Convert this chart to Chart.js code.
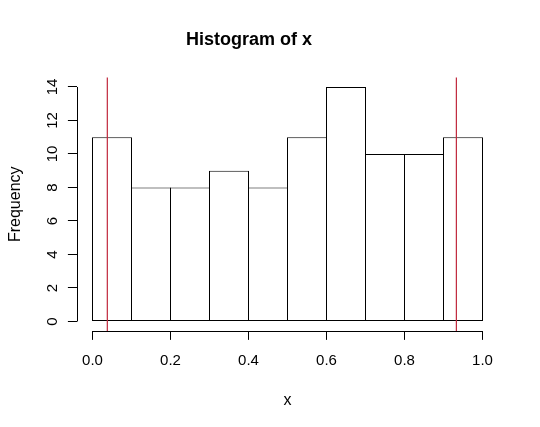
<!DOCTYPE html>
<html>
<head>
<meta charset="utf-8">
<title>Histogram of x</title>
<script src="https://cdn.jsdelivr.net/npm/chart.js@4"></script>
<style>
  body { margin: 0; background: #fff; }
  #wrap { width: 540px; height: 427px; }
</style>
</head>
<body>
<div id="wrap"><canvas id="histChart"></canvas></div>
<script>
// bins and counts
const breaks = [0, 0.1, 0.2, 0.3, 0.4, 0.5, 0.6, 0.7, 0.8, 0.9, 1.0];
const counts = [11, 8, 8, 9, 8, 11, 14, 10, 10, 11];
const xTicks = [0, 0.2, 0.4, 0.6, 0.8, 1.0];
const yTicks = [0, 2, 4, 6, 8, 10, 12, 14];
const vLines = [0.038, 0.933];

const FONT = '"Liberation Sans", Arial, sans-serif';
Chart.defaults.font.family = FONT;
Chart.defaults.color = '#000';

// R pads the plot region by 4% on each side
const xSpan = breaks[breaks.length - 1] - breaks[0];
const yTop = Math.max(...counts);
const xMin = breaks[0] - 0.04 * xSpan, xMax = breaks[breaks.length - 1] + 0.04 * xSpan;
const yMin = -0.04 * yTop, yMax = yTop * 1.04;

const points = counts.map((c, i) => ({ x: (breaks[i] + breaks[i + 1]) / 2, y: c }));

// axis lines only over the tick range, and y labels turned like R draws them
const rAxes = {
  id: 'rAxes',
  afterDraw(chart) {
    const { ctx, chartArea, scales: { x, y } } = chart;
    ctx.save();
    ctx.strokeStyle = '#000';
    ctx.lineWidth = 1;
    const yb = Math.round(chartArea.bottom) + 0.5;
    const xl = Math.round(chartArea.left) + 0.5;
    ctx.beginPath();
    ctx.moveTo(x.getPixelForValue(xTicks[0]), yb);
    ctx.lineTo(x.getPixelForValue(xTicks[xTicks.length - 1]), yb);
    ctx.moveTo(xl, y.getPixelForValue(yTicks[0]));
    ctx.lineTo(xl, y.getPixelForValue(yTicks[yTicks.length - 1]));
    ctx.stroke();

    ctx.font = '15px ' + FONT;
    ctx.fillStyle = '#000';
    ctx.textAlign = 'center';
    ctx.textBaseline = 'middle';
    y.ticks.forEach(t => {
      ctx.save();
      ctx.translate(xl - 25, y.getPixelForValue(t.value));
      ctx.rotate(-Math.PI / 2);
      ctx.fillText(String(t.value), 0, 0);
      ctx.restore();
    });
    ctx.restore();
  }
};

// abline(v = ...) style red markers
const refLines = {
  id: 'refLines',
  afterDatasetsDraw(chart) {
    const { ctx, chartArea, scales: { x } } = chart;
    ctx.save();
    ctx.lineWidth = 1.2;
    ctx.strokeStyle = '#c0283c';
    ctx.beginPath();
    vLines.forEach(v => {
      const px = x.getPixelForValue(v);
      ctx.moveTo(px, chartArea.top);
      ctx.lineTo(px, chartArea.bottom);
    });
    ctx.stroke();
    ctx.restore();
  }
};

const data = {
  datasets: [{
    label: 'x',
    data: points,
    backgroundColor: '#fff',
    borderColor: '#000',
    borderWidth: 1,
    borderSkipped: false,
    inflateAmount: 0,
    barPercentage: 40 / 39,   // 1px overlap so shared edges are single lines
    categoryPercentage: 1
  }]
};

const options = {
  responsive: true,
  maintainAspectRatio: false,
  animation: false,
  layout: { padding: { left: 0, right: 41.9, top: 0, bottom: 0 } },
  plugins: {
    legend: { display: false },
    tooltip: { enabled: false },
    title: {
      display: true,
      text: 'Histogram of x',
      font: { size: 18, weight: 'bold' },
      padding: { top: 29, bottom: 27 }
    }
  },
  scales: {
    x: {
      type: 'linear',
      min: xMin,
      max: xMax,
      offset: false,
      afterBuildTicks: s => { s.ticks = xTicks.map(v => ({ value: v })); },
      afterFit: s => { s.height = 96.12; },
      grid: { offset: false, drawOnChartArea: false, drawTicks: true, tickLength: 9, color: '#000' },
      border: { display: false },
      ticks: { font: { size: 15 }, padding: 12, autoSkip: false, maxRotation: 0, callback: v => v.toFixed(1) },
      title: { display: true, text: 'x', font: { size: 16 }, padding: { top: 0, bottom: 17 } }
    },
    y: {
      type: 'linear',
      min: yMin,
      max: yMax,
      afterBuildTicks: s => { s.ticks = yTicks.map(v => ({ value: v })); },
      afterFit: s => { s.width = 76.9; },
      grid: { drawOnChartArea: false, drawTicks: true, tickLength: 9, color: '#000' },
      border: { display: false },
      ticks: { display: false },
      title: { display: true, text: 'Frequency', font: { size: 16 }, padding: { top: 6, bottom: 0 } }
    }
  }
};

const histChart = new Chart(document.getElementById('histChart'), {
  type: 'bar',
  data: data,
  options: options,
  plugins: [refLines, rAxes]
});
</script>
</body>
</html>
